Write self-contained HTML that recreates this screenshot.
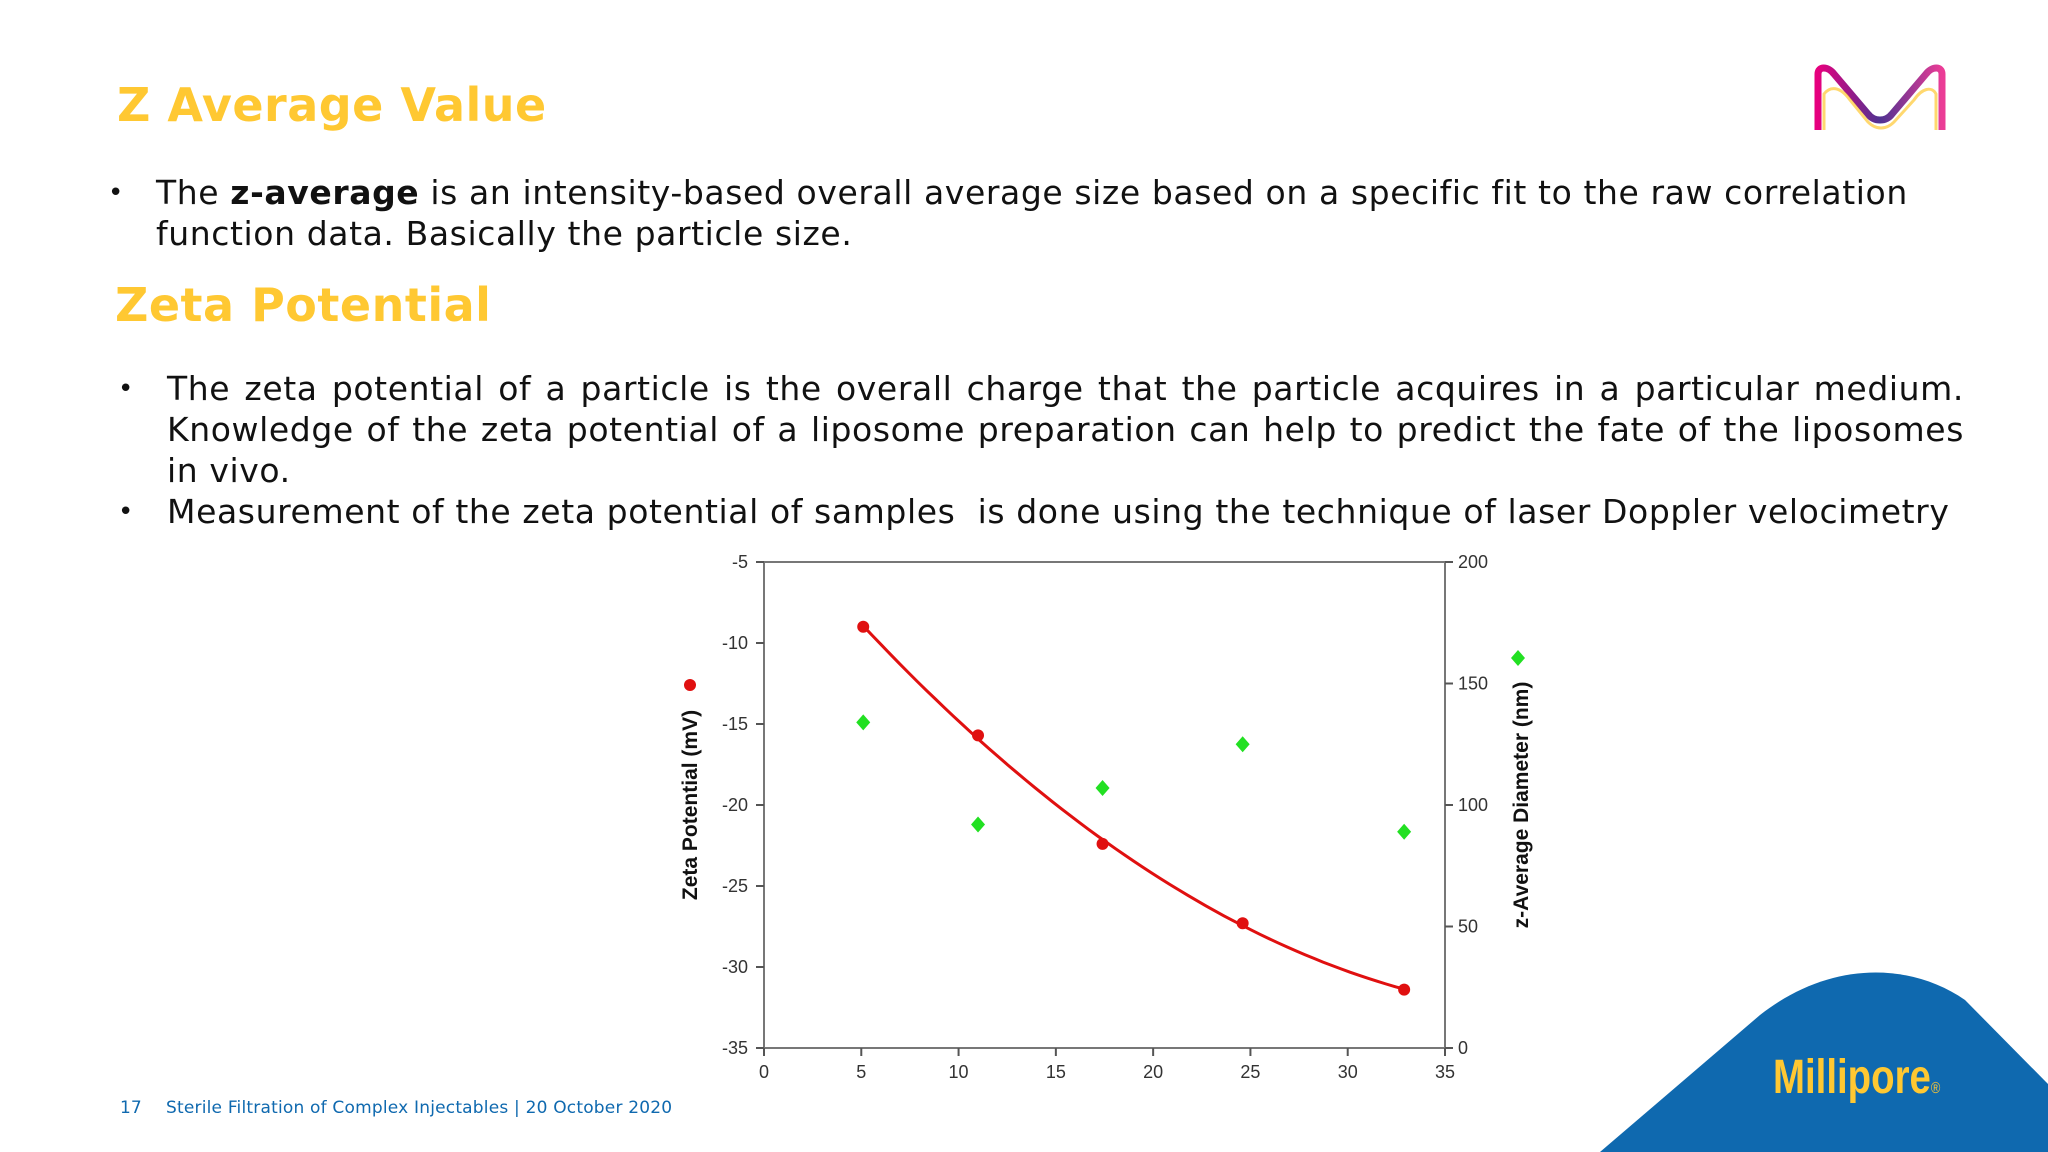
<!DOCTYPE html>
<html><head><meta charset="utf-8"><style>
html,body{margin:0;padding:0;background:#fff}
#page{position:relative;width:2048px;height:1152px;overflow:hidden;background:#fff;font-family:"DejaVu Sans","Liberation Sans",sans-serif}
.h{position:absolute;color:#ffc832;font-weight:bold;font-size:46px;margin:0;white-space:nowrap;letter-spacing:0.5px}
.p{position:absolute;font-size:33px;color:#111;line-height:41px;margin:0;letter-spacing:0.6px}
.b{position:absolute;font-size:26px;color:#111}
</style></head><body>
<div id="page">
<h1 class="h" style="left:117px;top:78px">Z Average Value</h1>
<div class="b" style="left:108px;top:178px">•</div>
<p class="p" style="left:156px;top:172px;width:1810px">The <b>z-average</b> is an intensity-based overall average size based on a specific fit to the raw correlation function data. Basically the particle size.</p>
<h1 class="h" style="left:115px;top:278px">Zeta Potential</h1>
<div class="b" style="left:118px;top:374px">•</div>
<p class="p" style="left:167px;top:368px;width:1797px;text-align:justify">The zeta potential of a particle is the overall charge that the particle acquires in a particular medium. Knowledge of the zeta potential of a liposome preparation can help to predict the fate of the liposomes in vivo.</p>
<div class="b" style="left:118px;top:497px">•</div>
<p class="p" style="left:167px;top:491px;width:1850px;white-space:nowrap">Measurement of the zeta potential of samples &nbsp;is done using the technique of laser Doppler velocimetry</p>

<svg style="position:absolute;left:1810px;top:64px" width="140" height="72" viewBox="0 0 140 72">
<defs><linearGradient id="lg" x1="0" x2="1"><stop offset="0" stop-color="#e6007e"/><stop offset="0.5" stop-color="#503291"/><stop offset="1" stop-color="#eb3c96"/></linearGradient></defs>
<path d="M8 66 V10 C8 2 18 2 24 10 L58 50 C64 58 76 58 82 50 L116 10 C122 2 132 2 132 10 V66" fill="none" stroke="url(#lg)" stroke-width="7"/>
<path d="M14 66 V30 C20 22 30 22 40 36 L58 58 C66 66 76 66 84 58 L104 36 C112 24 122 22 126 30 V66" fill="none" stroke="#ffc832" stroke-width="3" opacity="0.7"/>
</svg>

<svg id="chart" style="position:absolute;left:0;top:0" width="2048" height="1152"></svg>

<svg style="position:absolute;left:0;top:0" width="2048" height="1152">
<path d="M1600 1152 L1760 1015 C1830 960 1910 962 1965 1000 L2048 1084 V1152 Z" fill="#0f69af"/>
</svg>
<div style="position:absolute;left:1773px;top:1050px;color:#ffc832;font-family:'Liberation Sans',sans-serif;font-weight:bold;font-size:48px;transform:scaleX(0.8);transform-origin:left top;white-space:nowrap">Millipore<span style="font-size:16px;font-weight:normal">®</span></div>
<div style="position:absolute;left:120px;top:1098px;color:#0f69af;font-size:17px">17</div>
<div style="position:absolute;left:166px;top:1098px;color:#0f69af;font-size:17px;letter-spacing:0.2px">Sterile Filtration of Complex Injectables | 20 October 2020</div>
</div>
<script>
const xTicks=[0,5,10,15,20,25,30,35];
const yLeftTicks=[-5,-10,-15,-20,-25,-30,-35];
const yRightTicks=[200,150,100,50,0];
const xs=[5.1,11,17.4,24.6,32.9];
const zeta=[-9.0,-15.7,-22.4,-27.3,-31.4];
const diam=[134,92,107,125,89];
const L=764,R=1445,T=562,B=1048;
const sx=v=>L+(v-0)/35*(R-L);
const syl=v=>T+(-5-v)/30*(B-T);
const syr=v=>B-v/200*(B-T);
const svg=document.getElementById('chart');
const NS='http://www.w3.org/2000/svg';
function mk(t,a){const e=document.createElementNS(NS,t);for(const k in a)e.setAttribute(k,a[k]);svg.appendChild(e);return e;}
const frame=mk('rect',{x:L,y:T,width:R-L,height:B-T,fill:'#fff',stroke:'#777','stroke-width':2});


const tf='font-family:"Liberation Sans",sans-serif;font-size:18px;fill:#333';
xTicks.forEach(v=>{const x=sx(v);
 const l=mk('line',{x1:x,x2:x,y1:B,y2:B+8,stroke:'#555','stroke-width':2});
 
 
 const t=mk('text',{x:x,y:B+30,'text-anchor':'middle',style:tf});t.textContent=v;
 
 });
yLeftTicks.forEach(v=>{const y=syl(v);
 const l=mk('line',{x1:L-8,x2:L,y1:y,y2:y,stroke:'#555','stroke-width':2});
 
 
 const t=mk('text',{x:L-16,y:y+6,'text-anchor':'end',style:tf});t.textContent=v;
 
 });
yRightTicks.forEach(v=>{const y=syr(v);
 const l=mk('line',{x1:R,x2:R+8,y1:y,y2:y,stroke:'#555','stroke-width':2});
 
 
 const t=mk('text',{x:R+13,y:y+6,'text-anchor':'start',style:tf});t.textContent=v;
 
 });
(function(){let n=xs.length,S=[0,0,0,0,0],Ty=[0,0,0];
 for(let i=0;i<n;i++){let p=1;for(let k=0;k<5;k++){S[k]+=p;if(k<3)Ty[k]+=p*zeta[i];p*=xs[i];}}
 const A=[[S[0],S[1],S[2],Ty[0]],[S[1],S[2],S[3],Ty[1]],[S[2],S[3],S[4],Ty[2]]];
 for(let i=0;i<3;i++){for(let j=i+1;j<3;j++){const f=A[j][i]/A[i][i];for(let k=i;k<4;k++)A[j][k]-=f*A[i][k];}}
 const c=[0,0,0];for(let i=2;i>=0;i--){let s=A[i][3];for(let k=i+1;k<3;k++)s-=A[i][k]*c[k];c[i]=s/A[i][i];}
 let d='';const x0=xs[0],x1=xs[xs.length-1];
 for(let s=0;s<=60;s++){const x=x0+(x1-x0)*s/60,y=c[0]+c[1]*x+c[2]*x*x;d+=(s?'L':'M')+sx(x).toFixed(1)+' '+syl(y).toFixed(1);}
 const p=mk('path',{d:d,fill:'none',stroke:'#e01010','stroke-width':3});
 
 })();
xs.forEach((x,i)=>{
 const c=mk('circle',{cx:sx(x),cy:syl(zeta[i]),r:6,fill:'#e01010'});
 
 
 const X=sx(x),Y=syr(diam[i]);
 const g=mk('polygon',{points:`${X},${Y-8} ${X+7},${Y} ${X},${Y+8} ${X-7},${Y}`,fill:'#22e022'});
 
 });
const lm=mk('circle',{cx:690,cy:685,r:6,fill:'#e01010'});


const gm=mk('polygon',{points:'1518,650 1525,658 1518,666 1511,658',fill:'#22e022'});


const at='font-family:"Liberation Sans",sans-serif;font-size:21px;font-weight:bold;fill:#111';
const yl=mk('text',{x:0,y:0,transform:'translate(697,805) rotate(-90)','text-anchor':'middle',style:at});yl.textContent='Zeta Potential (mV)';


const yr=mk('text',{x:0,y:0,transform:'translate(1528,805) rotate(-90)','text-anchor':'middle',style:at});yr.textContent='z-Average Diameter (nm)';


</script>
</body></html>
